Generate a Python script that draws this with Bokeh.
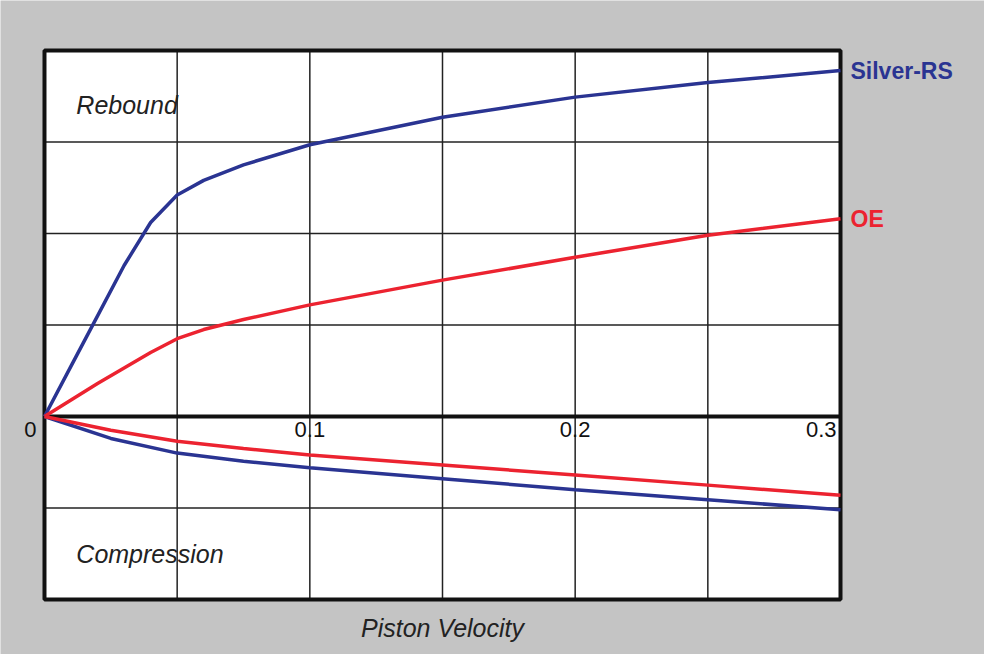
from bokeh.plotting import figure
from bokeh.models import Label
from bokeh.embed import file_html
from bokeh.resources import INLINE

# data (piston velocity vs force, in grid units)
vel_reb = [0, 0.01, 0.02, 0.03, 0.04, 0.05, 0.06, 0.075, 0.1, 0.15, 0.2, 0.25, 0.3]
silver_reb = [0, 0.55, 1.1, 1.65, 2.12, 2.42, 2.58, 2.75, 2.97, 3.27, 3.49, 3.65, 3.78]
oe_reb = [0, 0.18, 0.36, 0.53, 0.70, 0.85, 0.95, 1.06, 1.22, 1.49, 1.74, 1.98, 2.16]
vel_comp = [0, 0.025, 0.05, 0.075, 0.1, 0.15, 0.2, 0.25, 0.3]
silver_comp = [0, -0.24, -0.40, -0.49, -0.56, -0.68, -0.80, -0.91, -1.02]
oe_comp = [0, -0.15, -0.27, -0.35, -0.42, -0.53, -0.64, -0.75, -0.86]
xticks = [0, 0.1, 0.2, 0.3]
xtick_labels = ["0", "0.1", "0.2", "0.3"]
xgrid_vals = [0.05, 0.1, 0.15, 0.2, 0.25]
ygrid_vals = [-1, 1, 2, 3]

BLUE = "#2a3492"
RED = "#ec2330"
FONT = "Liberation Sans"

p = figure(width=984, height=654, x_range=(-0.01658, 0.35427), y_range=(-2.601, 4.546),
           output_backend="svg", toolbar_location=None,
           min_border_left=0, min_border_top=0, min_border_right=0, min_border_bottom=0)
p.xaxis.visible = False
p.yaxis.visible = False
p.grid.visible = False
p.outline_line_color = None
p.background_fill_color = "#c4c4c4"
p.border_fill_color = "#c4c4c4"

p.quad(left=0, right=0.3, bottom=-2, top=4, fill_color="white", line_color=None)
p.segment(x0=xgrid_vals, x1=xgrid_vals, y0=[-2] * len(xgrid_vals), y1=[4] * len(xgrid_vals),
          line_color="#222222", line_width=1.5)
p.segment(x0=[0] * len(ygrid_vals), x1=[0.3] * len(ygrid_vals), y0=ygrid_vals, y1=ygrid_vals,
          line_color="#222222", line_width=1.5)
p.segment(x0=[0], x1=[0.3], y0=[0], y1=[0], line_color="#111111", line_width=4)
p.quad(left=0, right=0.3, bottom=-2, top=4, fill_color=None, line_color="#111111", line_width=4)

p.line(vel_reb, silver_reb, line_color=BLUE, line_width=3.5)
p.line(vel_reb, oe_reb, line_color=RED, line_width=3.5)
p.line(vel_comp, silver_comp, line_color=BLUE, line_width=3.5)
p.line(vel_comp, oe_comp, line_color=RED, line_width=3.5)

for x, t in zip(xticks, xtick_labels):
    if x == 0:
        p.add_layout(Label(x=x, y=0, text=t, x_offset=-8, y_offset=-6, text_align="right",
                           text_baseline="top", text_font=FONT, text_font_size="22px", text_color="#111111"))
    else:
        p.add_layout(Label(x=x, y=0, text=t, x_offset=-4 if x == 0.3 else 0, y_offset=-6,
                           text_align="right" if x == 0.3 else "center",
                           text_baseline="top", text_font=FONT, text_font_size="22px", text_color="#111111"))

p.add_layout(Label(x=0.3, y=silver_reb[-1], text="Silver-RS", x_offset=10, text_baseline="middle",
                   text_font=FONT, text_font_style="bold", text_font_size="23px", text_color=BLUE))
p.add_layout(Label(x=0.3, y=oe_reb[-1], text="OE", x_offset=10, text_baseline="middle",
                   text_font=FONT, text_font_style="bold", text_font_size="23px", text_color=RED))
p.add_layout(Label(x=0.012, y=3.4, text="Rebound", text_baseline="middle",
                   text_font=FONT, text_font_style="italic", text_font_size="25px", text_color="#222222"))
p.add_layout(Label(x=0.012, y=-1.5, text="Compression", text_baseline="middle",
                   text_font=FONT, text_font_style="italic", text_font_size="25px", text_color="#222222"))
p.add_layout(Label(x=0.15, y=-2, y_offset=-14, text="Piston Velocity", text_align="center", text_baseline="top",
                   text_font=FONT, text_font_style="italic", text_font_size="25px", text_color="#222222"))

open("out.html", "w").write(file_html(p, INLINE))
